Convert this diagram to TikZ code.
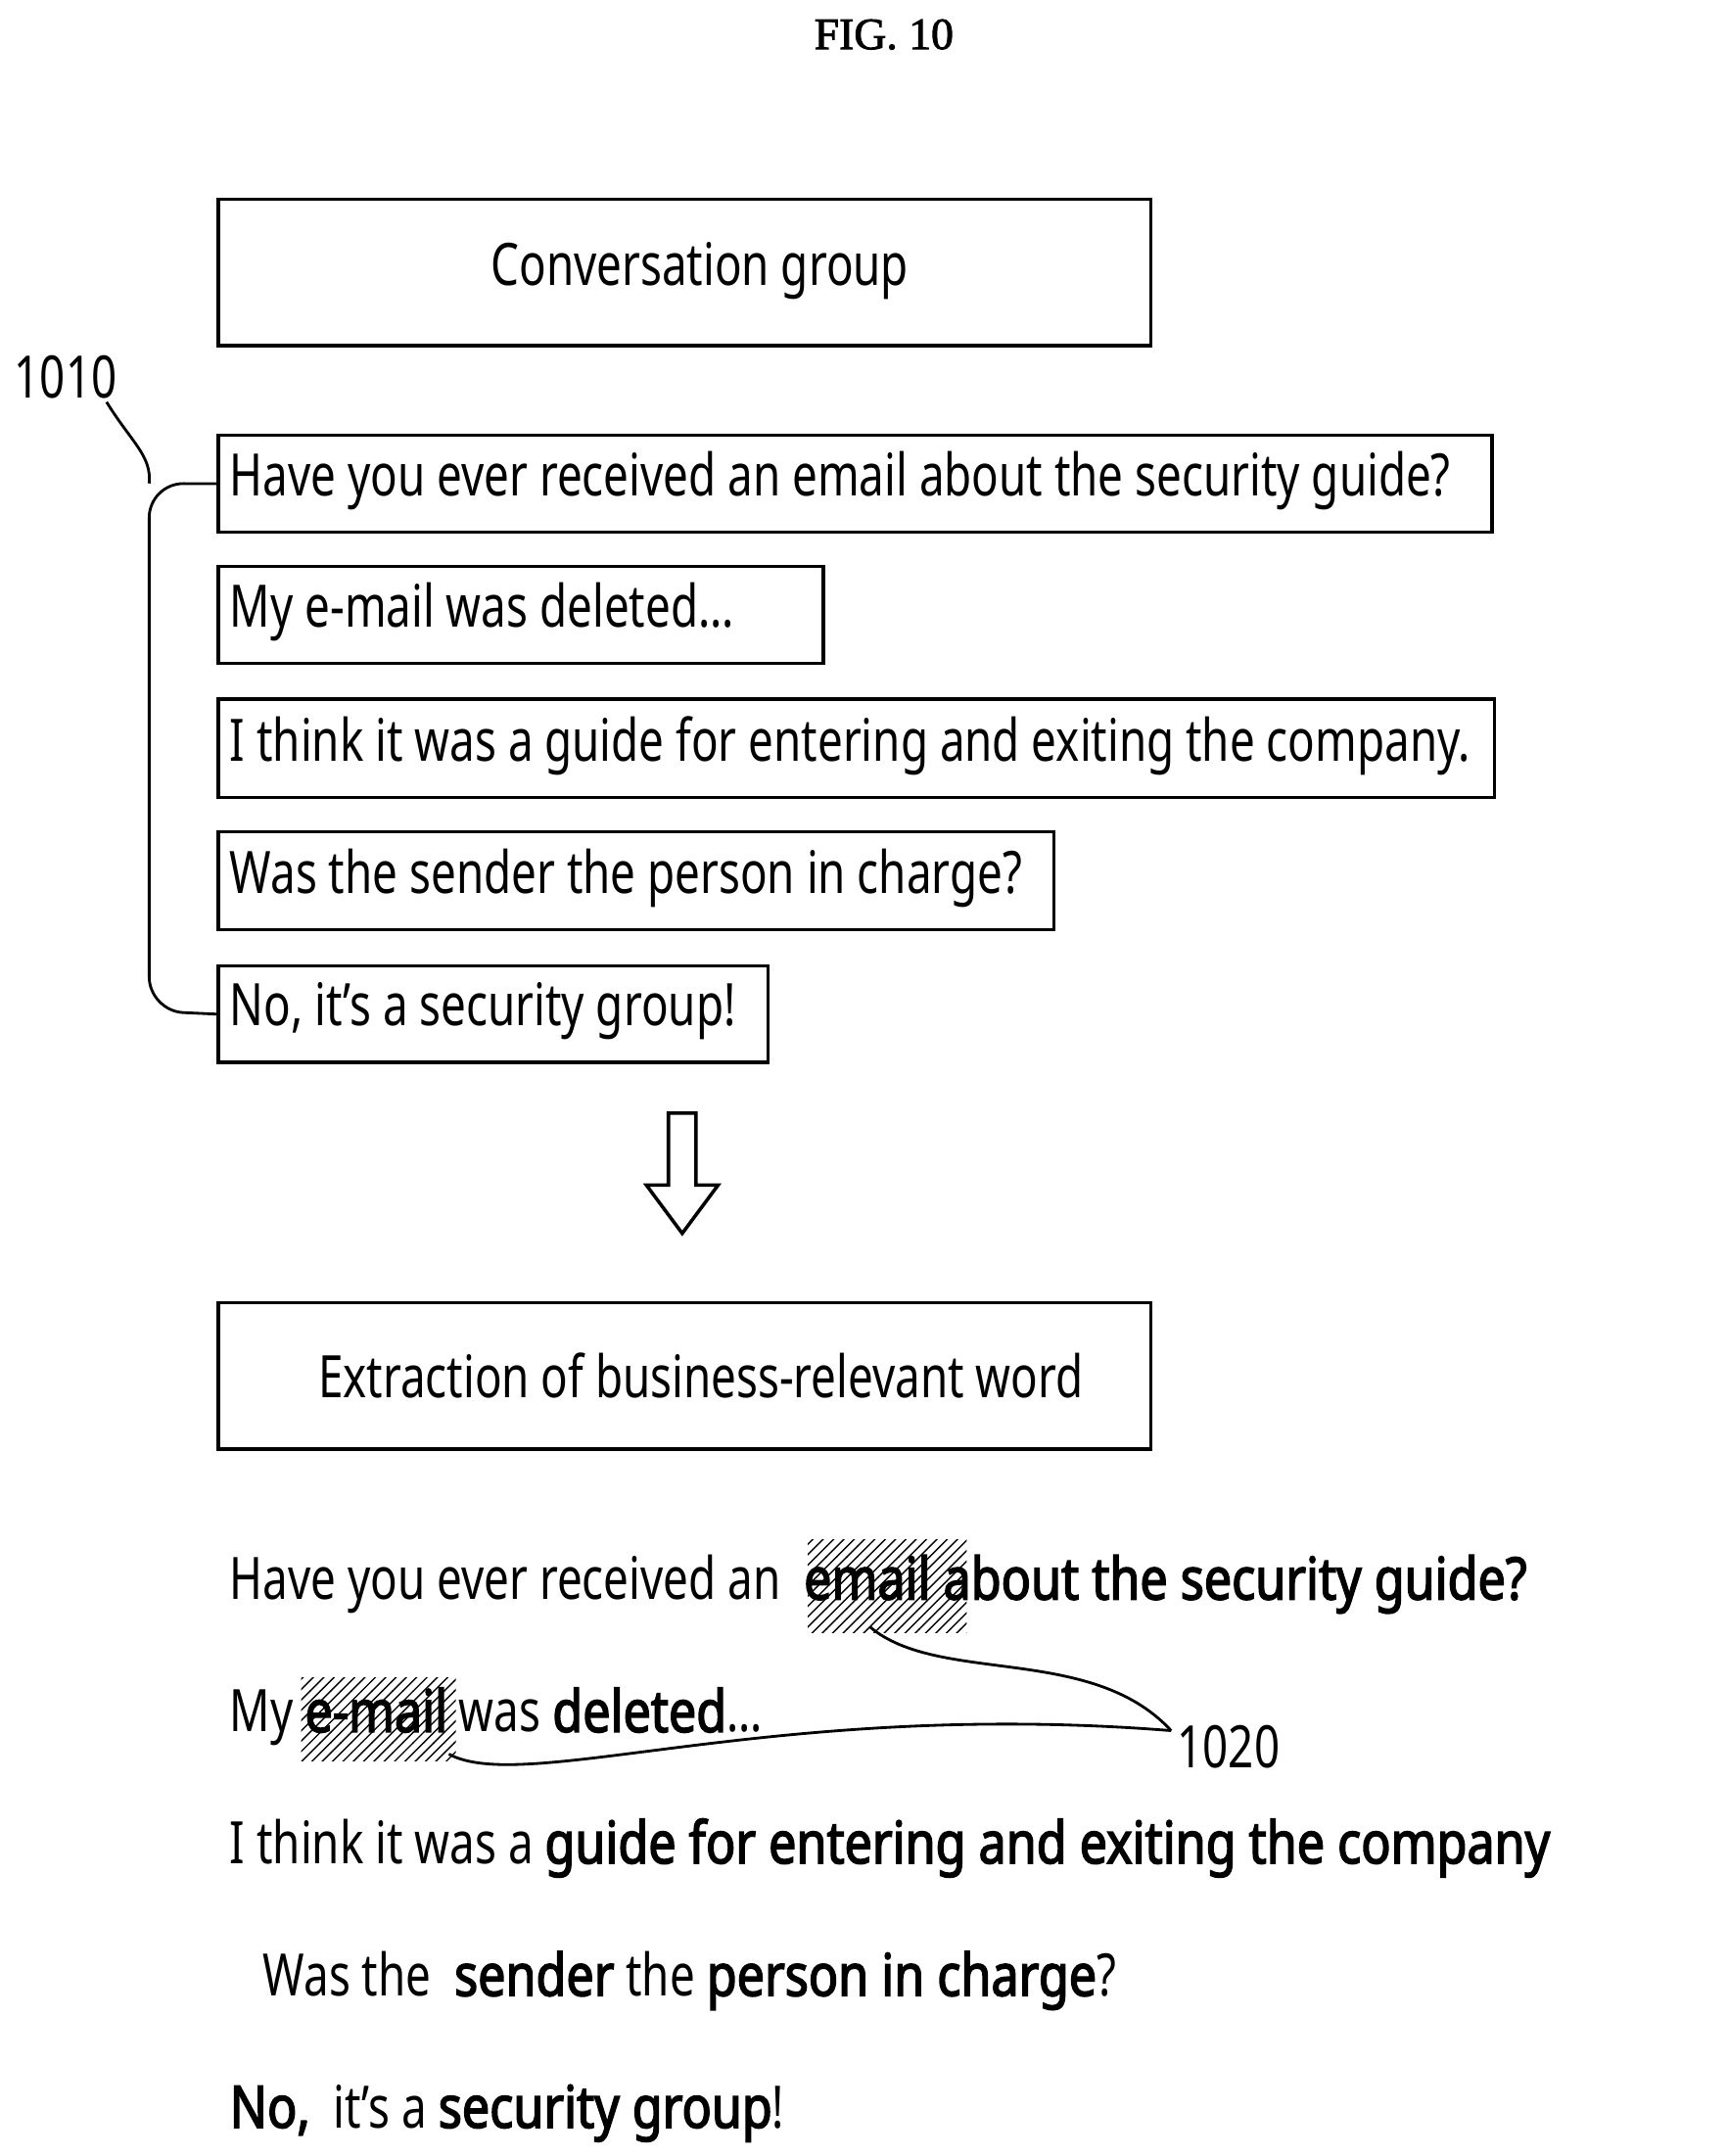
\documentclass[tikz,border=0pt]{standalone}
\usepackage{fontspec}
\setmainfont{Noto Sans}[FakeStretch=0.765, BoldFont={*}, BoldFeatures={FakeBold=2.5, FakeStretch=0.84}]
\usetikzlibrary{patterns}
\begin{document}
\begin{tikzpicture}[x=0.0141cm,y=-0.0141cm]
    % Styles
    \tikzset{
        msg/.style = {draw, line width = 1pt, anchor = north west, inner sep = 0pt},
        txt/.style = {anchor = west, inner sep = 0pt, font = \fontsize{17}{20}\selectfont},
        hatch/.style = {pattern = north east lines, draw = none}
    }
    \useasboundingbox (0,0) rectangle (1250,1561);

    % Title
    \node [font = \fontsize{13}{15}\selectfont] (title) at (640,25) {\fontspec{Liberation Serif}[FakeBold=2]FIG. 10};

    % Boxes
    \node [msg, minimum width = 675*0.0141cm, minimum height = 106*0.0141cm] (conv) at (157,143) {};
    \node [txt] (convt) at (355,196) {Conversation group};
    \node [msg, minimum width = 922*0.0141cm, minimum height = 70*0.0141cm] (m1) at (157,314) {};
    \node [msg, minimum width = 438*0.0141cm, minimum height = 70*0.0141cm] (m2) at (157,409) {};
    \node [msg, minimum width = 924*0.0141cm, minimum height = 71*0.0141cm] (m3) at (157,505) {};
    \node [msg, minimum width = 605*0.0141cm, minimum height = 71*0.0141cm] (m4) at (157,601) {};
    \node [msg, minimum width = 398*0.0141cm, minimum height = 70*0.0141cm] (m5) at (157,698) {};
    \node [txt] (t1) at (166,348) {Have you ever received an email about the security guide?};
    \node [txt] (t2) at (166,443) {My e-mail was deleted...};
    \node [txt] (t3) at (166,540) {I think it was a guide for entering and exiting the company.};
    \node [txt] (t4) at (166,636) {Was the sender the person in charge?};
    \node [txt] (t5) at (166,732) {No, it's a security group!};

    % Bracket 1010
    \node [txt] (l1010) at (10,273) {1010};
    \coordinate (bt) at (108,350);
    \coordinate (bb) at (108,732);
    \draw [line width = 0.8pt, rounded corners = 10pt] (m1.west) -- (bt) -- (bb) -- (m5.west);
    \draw [line width = 0.8pt] (l1010.south east) ++(-8,2) .. controls (95,320) and (110,330) .. (bt);

    % Arrow
    \draw [line width = 1pt] (484,806) -- (504,806) -- (504,858) -- (520,858) -- (494,893)
        -- (468,858) -- (484,858) -- cycle;

    % Extraction box
    \node [msg, minimum width = 675*0.0141cm, minimum height = 106*0.0141cm] (ext) at (157,942) {};
    \node [txt] (extt) at (230,996) {Extraction of business-relevant word};

    % Hatching
    \fill [hatch] (585,1115) rectangle (700,1182);
    \fill [hatch] (218,1215) rectangle (330,1275);

    % Extracted lines
    \node [txt] (e1) at (166,1147) {Have you ever received an \ \textbf{email about the security guide?}};
    \node [txt] (e2) at (166,1243) {My \textbf{e-mail} was \textbf{deleted}...};
    \node [txt] (e3) at (166,1338) {I think it was a \textbf{guide for entering and exiting the company}};
    \node [txt] (e4) at (190,1434) {Was the \ \textbf{sender} the \textbf{person in charge}?};
    \node [txt] (e5) at (166,1530) {\textbf{No,} \ it's a \textbf{security group}!};

    % Label 1020
    \node [txt] (l1020) at (852,1265) {1020};
    \coordinate (la) at (848,1253);
    \draw [line width = 0.8pt] (630,1178) .. controls (680,1220) and (790,1190) .. (la);
    \draw [line width = 0.8pt] (325,1270) .. controls (380,1300) and (560,1230) .. (la);
\end{tikzpicture}
\end{document}
